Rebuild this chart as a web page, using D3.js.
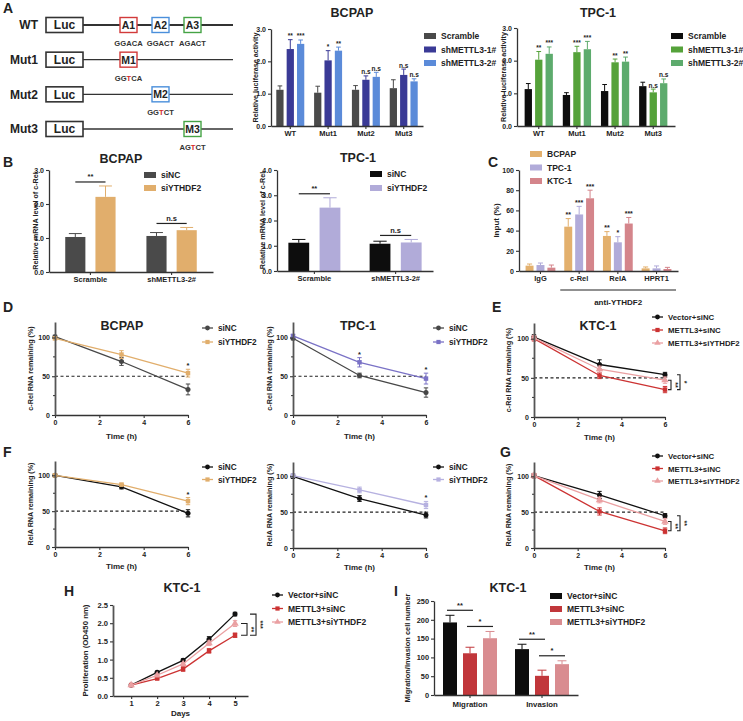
<!DOCTYPE html>
<html><head><meta charset="utf-8">
<script src="https://cdn.jsdelivr.net/npm/d3@7"></script>
<style>
body{margin:0;background:#fff;}
svg{display:block;font-family:"Liberation Sans",Arial,sans-serif;}
text{font-weight:bold;}
</style></head><body>
<svg id="fig" width="743" height="721"></svg>
<script>
// ================= DATA =================
// Panel A schematic
const constructs = ["WT","Mut1","Mut2","Mut3"];
const sites = ["A1","A2","A3"];
const mutSites = ["M1","M2","M3"];
const wtMotifs = ["GGACA","GGACT","AGACT"];
const mutMotifs = ["GGTCA","GGTCT","AGTCT"];
const mutIndex = 2;

// Panel A luciferase
const lucGroups = ["WT","Mut1","Mut2","Mut3"];
const lucSeries = ["Scramble","shMETTL3-1#","shMETTL3-2#"];
const lucTicks = [0,1,2,3];
const bcpapLuc = [[1.12,2.38,2.54],[1.03,2.03,2.33],[1.12,1.43,1.52],[1.17,1.58,1.38]];
const bcpapLucErr = [[0.12,0.29,0.12],[0.2,0.3,0.11],[0.13,0.12,0.14],[0.26,0.18,0.08]];
const bcpapLucSig = [["","**","***"],["","*","**"],["","n.s","n.s"],["","n.s","n.s"]];
const tpcLuc = [[1.13,2.03,2.21],[0.95,2.26,2.35],[1.07,1.95,1.97],[1.22,1.03,1.31]];
const tpcLucErr = [[0.17,0.25,0.21],[0.07,0.18,0.24],[0.2,0.1,0.14],[0.12,0.1,0.13]];
const tpcLucSig = [["","**","***"],["","***","***"],["","**","**"],["","n.s","n.s"]];

// Panel B
const bGroups = ["Scramble","shMETTL3-2#"];
const bSeries = ["siNC","siYTHDF2"];
const bcpapTicks = [0,1,2,3];
const tpcTicks = [0,1,2,3,4];
const bcpapRel = [[1.03,2.21],[1.06,1.23]];
const bcpapRelErr = [[0.1,0.32],[0.1,0.08]];
const tpcRel = [[1.12,2.51],[1.08,1.13]];
const tpcRelErr = [[0.13,0.39],[0.1,0.12]];
const bSig = ["**","n.s"];

// Panel C
const cTargets = ["IgG","c-Rel","RelA","HPRT1"];
const cCells = ["BCPAP","TPC-1","KTC-1"];
const cTicks = [0,20,40,60,80,100];
const cInput = [[5.3,5.9,3.3],[43.9,56,72],[34.7,28.4,47],[2.6,2.6,2]];
const cInputErr = [[1.6,2,2.6],[8,8,8],[4.3,5.6,6],[1.4,2.4,1.6]];
const cSig = [["","",""],["**","***","***"],["**","*","***"],["","",""]];

// Panels D-G (RNA decay)
const hours = [0,3,6];
const timeTicks = [0,2,4,6];
const remainTicks = [0,50,100];
const dBcpapNC = [101,69,33], dBcpapNCErr = [2,5,7];
const dBcpapSi = [99,78,54], dBcpapSiErr = [2,5,5];
const dBcpapSig = ["","","*"];
const dTpcNC = [99,51,29], dTpcNCErr = [2,3,6];
const dTpcSi = [102,68,47], dTpcSiErr = [2,6,7];
const dTpcSig = ["","*","*"];
const eVector = [102,67,54], eVectorErr = [3,6,3];
const eMettl = [100,53,35], eMettlErr = [3,4,4];
const eSiY = [101,61,47], eSiYErr = [3,4,4];
const eBrackets = [["METTL3+siYTHDF2","METTL3+siNC","**"],["Vector+siNC","METTL3+siNC","*"]];
const fBcpapNC = [100,84,47], fBcpapNCErr = [2,3,5];
const fBcpapSi = [100,87,64], fBcpapSiErr = [2,2,5];
const fBcpapSig = ["","","*"];
const fTpcNC = [100,69,46], fTpcNCErr = [3,4,4];
const fTpcSi = [101,81,60], fTpcSiErr = [2,4,5];
const fTpcSig = ["","","*"];
const gVector = [101,74,45], gVectorErr = [3,5,3];
const gMettl = [101,51,24], gMettlErr = [3,5,4];
const gSiY = [101,67,37], gSiYErr = [3,4,4];
const gBrackets = [["METTL3+siYTHDF2","METTL3+siNC","**"],["Vector+siNC","METTL3+siNC","**"]];

// Panel H
const days = [1,2,3,4,5];
const prolTicks = [0,0.5,1,1.5,2,2.5];
const hVector = [0.3,0.65,0.98,1.56,2.25], hVectorErr = [0.02,0.03,0.04,0.07,0.05];
const hMettl = [0.3,0.48,0.74,1.24,1.67], hMettlErr = [0.02,0.03,0.06,0.06,0.06];
const hSiY = [0.3,0.57,0.88,1.45,1.99], hSiYErr = [0.02,0.03,0.04,0.06,0.08];
const hBrackets = [["METTL3+siYTHDF2","METTL3+siNC","**"],["Vector+siNC","METTL3+siNC","***"]];

// Panel I
const iGroups = ["Migration","Invasion"];
const ktcSeries = ["Vector+siNC","METTL3+siNC","METTL3+siYTHDF2"];
const iTicks = [0,50,100,150,200,250];
const iCounts = [[193,111,151],[122,51,82]];
const iCountsErr = [[19,16,18],[13,15,9]];
const iPairs = [[0,1,"**"],[1,2,"*"]];

// ================= DRAWING =================
const FONT = '"Liberation Sans", Arial, sans-serif';
const svg = d3.select("#fig");
svg.append("rect").attr("width",743).attr("height",721).attr("fill","#fff");
const AX = "#333";

function txt(g,x,y,s,size,anchor,col){
  return g.append("text").attr("x",x).attr("y",y).text(s).attr("font-size",size)
    .attr("text-anchor",anchor||"start").attr("fill",col||"#222").attr("font-family",FONT).attr("font-weight","bold");
}
function styleAxis(sel,fs){
  sel.attr("font-family",FONT).attr("font-size",fs||7).attr("font-weight","bold").attr("color","#222");
  sel.selectAll("path.domain").attr("stroke",AX).attr("stroke-width",1.3);
  sel.selectAll(".tick line").attr("stroke",AX).attr("stroke-width",1.1);
}
function ylabel(g,x,yc,s,fs){
  g.append("text").attr("transform",`translate(${x},${yc}) rotate(-90)`).attr("text-anchor","middle")
   .attr("font-size",fs||7.2).attr("font-family",FONT).attr("font-weight","bold").attr("fill","#222").text(s);
}

// Panel letters
[["A",3,13],["B",3,167],["C",488,167],["D",3,312],["E",492,312],["F",3,457],["G",500,457],["H",64,596],["I",394,596]]
  .forEach(d=>txt(svg,d[1],d[2],d[0],14));

// ---------- Panel A schematic ----------
(function(){
  const g = svg.append("g");
  const rowY = d3.scalePoint().domain(constructs).range([25,129]);
  const siteX = d3.scalePoint().domain(sites).range([128.5,192.5]);
  const siteCol = ["#d23a3a","#4a8fdb","#45a345"];
  constructs.forEach((c,ri)=>{
    const yy = rowY(c);
    txt(g,38,yy+4.2,c,12,"end");
    g.append("line").attr("x1",83).attr("x2",233).attr("y1",yy).attr("y2",yy).attr("stroke","#333").attr("stroke-width",ri===0?1.8:1.3);
    g.append("rect").attr("x",46).attr("y",yy-7.5).attr("width",37).attr("height",15).attr("fill","#fff").attr("stroke","#333").attr("stroke-width",1.6);
    txt(g,64.5,yy+4.3,"Luc",12,"middle");
    const idx = ri===0 ? [0,1,2] : [ri-1];
    idx.forEach(si=>{
      const cx = siteX(sites[si]);
      g.append("rect").attr("x",cx-8.5).attr("y",yy-7.5).attr("width",17).attr("height",15).attr("fill","#fff").attr("stroke",siteCol[si]).attr("stroke-width",1.4);
      txt(g,cx,yy+4,ri===0?sites[si]:mutSites[si],10.5,"middle");
      if(ri===0){
        txt(g,cx,yy+21,wtMotifs[si],7.6,"middle","#333");
      } else {
        const t = g.append("text").attr("x",cx).attr("y",yy+21).attr("text-anchor","middle").attr("font-size",7.6).attr("font-family",FONT).attr("font-weight","bold").attr("fill","#333");
        mutMotifs[si].split("").forEach((ch,k)=>t.append("tspan").text(ch).attr("fill",k===mutIndex?"#d62b2b":"#333"));
      }
    });
  });
})();

// ---------- Bar chart helper ----------
function barChart(o){
  const g = svg.append("g");
  const x = d3.scaleBand().domain(o.groups).range([o.x0,o.x1]).paddingInner(o.pi).paddingOuter(o.po);
  const xs = d3.scaleBand().domain(o.series).range([0,x.bandwidth()]).paddingInner(o.ip);
  const y = d3.scaleLinear().domain([0,o.max]).range([o.yb,o.yt]);
  const bw = xs.bandwidth();
  o.groups.forEach((gr,gi)=>{
    o.series.forEach((s,si)=>{
      const v=o.values[gi][si], e=o.errs[gi][si], bx=x(gr)+xs(s), cx=bx+bw/2, col=o.colors[si];
      g.append("line").attr("x1",cx).attr("x2",cx).attr("y1",y(v)).attr("y2",y(v+e)).attr("stroke",col).attr("stroke-width",1);
      g.append("line").attr("x1",cx-bw*0.32).attr("x2",cx+bw*0.32).attr("y1",y(v+e)).attr("y2",y(v+e)).attr("stroke",col).attr("stroke-width",1);
      g.append("rect").attr("x",bx).attr("y",y(v)).attr("width",bw).attr("height",y(0)-y(v)).attr("fill",col);
      if(o.sig && o.sig[gi][si]) txt(g,cx,y(v+e)-1.5,o.sig[gi][si],o.sigFs||6.5,"middle");
    });
    if(o.pairs){
      o.pairs.forEach(p=>{
        const a=p[0], b=p[1];
        const xa = x(gr)+xs(o.series[a])+bw/2, xb = x(gr)+xs(o.series[b])+bw/2;
        const top = Math.max(o.values[gi][a]+o.errs[gi][a], o.values[gi][b]+o.errs[gi][b]);
        const ly = y(top)-o.pairGap;
        g.append("line").attr("x1",xa).attr("x2",xb).attr("y1",ly).attr("y2",ly).attr("stroke","#222").attr("stroke-width",1.2);
        txt(g,(xa+xb)/2,ly-2.5,Array.isArray(p[2])?p[2][gi]:p[2],o.sigFs||7,"middle");
      });
    }
  });
  const xa = g.append("g").attr("transform",`translate(0,${o.yb})`).call(d3.axisBottom(x).tickSize(3).tickSizeOuter(0).tickPadding(o.xpad||2));
  styleAxis(xa,o.xfs||7.5);
  const ya = g.append("g").attr("transform",`translate(${o.x0},0)`).call(d3.axisLeft(y).tickValues(o.ticks).tickSize(3).tickSizeOuter(0).tickPadding(2));
  styleAxis(ya,o.yfs||7);
  ylabel(g,o.ylx,(o.yb+o.yt)/2,o.ylabel,o.ylfs);
  if(o.title) txt(g,o.title[1],o.title[2],o.title[0],12.5,"middle");
  o.series.forEach((s,si)=>{
    const ly = o.legY + si*o.legDy;
    g.append("rect").attr("x",o.legX).attr("y",ly-3).attr("width",12).attr("height",6).attr("fill",o.colors[si]);
    txt(g,o.legX+17,ly+3,s,8.5);
  });
  return {g,x,y};
}

// Panel A bar charts
barChart({x0:271,x1:423,yb:126,yt:29,max:3,ticks:lucTicks,groups:lucGroups,series:lucSeries,values:bcpapLuc,errs:bcpapLucErr,sig:bcpapLucSig,
  colors:["#4a4a4a","#3a3a96","#5b8bd9"],pi:0.26,po:0.14,ip:0.3,ylx:258,ylabel:"Relative luciferase activity",title:["BCPAP",352,17],
  legX:424,legY:36,legDy:13.5,sigFs:6.5});
barChart({x0:517,x1:675,yb:126,yt:28,max:3,ticks:lucTicks,groups:lucGroups,series:lucSeries,values:tpcLuc,errs:tpcLucErr,sig:tpcLucSig,
  colors:["#0d0d0d","#55a23a","#5dab6d"],pi:0.26,po:0.2,ip:0.3,ylx:506,ylabel:"Relative luciferase activity",title:["TPC-1",598,17],
  legX:671,legY:36,legDy:13.5,sigFs:6.5});

// Panel B
barChart({x0:49,x1:213,yb:272,yt:170,max:3,ticks:bcpapTicks,groups:bGroups,series:bSeries,values:bcpapRel,errs:bcpapRelErr,
  colors:["#4a4a4a","#e1ae6c"],pi:0.38,po:0.2,ip:0.333,pairs:[[0,1,bSig]],pairGap:4,sigFs:7.5,ylx:38,ylabel:"Relative mRNA level of c-Rel",
  title:["BCPAP",121,163],legX:144,legY:175,legDy:13,xfs:7.5});
barChart({x0:277,x1:433,yb:271,yt:170,max:4,ticks:tpcTicks,groups:bGroups,series:bSeries,values:tpcRel,errs:tpcRelErr,
  colors:["#0d0d0d","#b1abd9"],pi:0.36,po:0.14,ip:0.333,pairs:[[0,1,bSig]],pairGap:4,sigFs:7.5,ylx:265,ylabel:"Relative mRNA level of c-Rel",
  title:["TPC-1",358,162],legX:370,legY:174,legDy:14,xfs:7.5});

// Panel C
(function(){
  const r = barChart({x0:519,x1:678,yb:271,yt:170,max:100,ticks:cTicks,groups:cTargets,series:cCells,values:cInput,errs:cInputErr,sig:cSig,
    colors:["#e3b06d","#b1abd9","#d4858b"],pi:0.23,po:0.17,ip:0.27,ylx:499,ylabel:"Input (%)",ylfs:8,legX:530,legY:154,legDy:13.5,sigFs:7,xfs:7.5});
  const xl = r.x("c-Rel")-4, xr = 676;
  r.g.append("line").attr("x1",xl).attr("x2",xr).attr("y1",290).attr("y2",290).attr("stroke","#222").attr("stroke-width",1.2);
  txt(r.g,(xl+xr)/2,305,"anti-YTHDF2",8,"middle");
})();

// ---------- Line chart helper ----------
function lineChart(o){
  const g = svg.append("g");
  const x = d3.scaleLinear().domain(o.xdom).range([o.x0,o.x1]);
  const y = d3.scaleLinear().domain([0,o.ymax]).range([o.yb,o.yt]);
  if(o.ref!==undefined){
    g.append("line").attr("x1",x(o.xdom[0])).attr("x2",o.x1).attr("y1",y(o.ref)).attr("y2",y(o.ref))
     .attr("stroke","#222").attr("stroke-width",1.1).attr("stroke-dasharray","3,2.5");
  }
  const line = d3.line().x((d,i)=>x(o.xs[i])).y(d=>y(d));
  const shapes = {circle:d3.symbolCircle,square:d3.symbolSquare,triangle:d3.symbolTriangle};
  o.series.forEach(s=>{
    g.append("path").attr("d",line(s.vals)).attr("fill","none").attr("stroke",s.color).attr("stroke-width",1.3);
    s.vals.forEach((v,i)=>{
      const e = s.errs[i], cx = x(o.xs[i]);
      g.append("line").attr("x1",cx).attr("x2",cx).attr("y1",y(v-e)).attr("y2",y(v+e)).attr("stroke",s.color).attr("stroke-width",1);
      [v-e,v+e].forEach(w=>g.append("line").attr("x1",cx-2.2).attr("x2",cx+2.2).attr("y1",y(w)).attr("y2",y(w)).attr("stroke",s.color).attr("stroke-width",1));
      g.append("path").attr("d",d3.symbol().type(shapes[s.shape]).size(s.shape==="triangle"?24:20)()).attr("transform",`translate(${cx},${y(v)})`).attr("fill",s.color);
    });
  });
  if(o.sig){
    o.sig.forEach((st,i)=>{
      if(!st) return;
      const top = d3.max(o.series,s=>s.vals[i]+s.errs[i]);
      txt(g,x(o.xs[i]),y(top)-1,st,7.5,"middle");
    });
  }
  if(o.brackets){
    const li = o.xs.length-1, xl = x(o.xs[li]);
    o.brackets.forEach((b,L)=>{
      const sa = o.series.find(s=>s.name===b[0]), sb = o.series.find(s=>s.name===b[1]);
      const ya = y(sa.vals[li]), yb2 = y(sb.vals[li]);
      const xb = xl + o.brOff + L*o.brStep;
      g.append("path").attr("d",`M${xb-o.brTick},${ya}H${xb}V${yb2}H${xb-o.brTick}`).attr("fill","none").attr("stroke","#222").attr("stroke-width",1.1);
      g.append("text").attr("transform",`translate(${xb+2},${(ya+yb2)/2}) rotate(90)`).attr("text-anchor","middle")
        .attr("font-size",7).attr("font-family",FONT).attr("font-weight","bold").attr("fill","#222").text(b[2]);
    });
  }
  const xa = g.append("g").attr("transform",`translate(0,${o.yb})`).call(d3.axisBottom(x).tickValues(o.xticks).tickFormat(o.xfmt||d3.format("d")).tickSize(3).tickSizeOuter(0).tickPadding(2));
  styleAxis(xa,o.tfs||7);
  const ya = g.append("g").attr("transform",`translate(${o.x0},0)`).call(d3.axisLeft(y).tickValues(o.yticks).tickFormat(o.yfmt||d3.format("d")).tickSize(3).tickSizeOuter(0).tickPadding(2));
  styleAxis(ya,o.tfs||7);
  ya.select("path.domain").attr("stroke","#555").attr("stroke-width",1.8);
  if(o.minor) ya.selectAll(null).data(o.minor).enter().append("line").attr("x1",-2).attr("x2",0).attr("y1",d=>y(d)).attr("y2",d=>y(d)).attr("stroke",AX);
  ylabel(g,o.ylx,(o.yb+o.yt)/2,o.ylabel,o.ylfs);
  txt(g,(o.x0+o.x1)/2,o.xly,o.xlabel,8,"middle");
  if(o.title) txt(g,o.title[1],o.title[2],o.title[0],12.5,"middle");
  o.series.forEach((s,si)=>{
    const ly = o.legY + si*o.legDy;
    g.append("line").attr("x1",o.legX).attr("x2",o.legX+11).attr("y1",ly).attr("y2",ly).attr("stroke",s.color).attr("stroke-width",1.3);
    g.append("path").attr("d",d3.symbol().type(shapes[s.shape]).size(18)()).attr("transform",`translate(${o.legX+5.5},${ly})`).attr("fill",s.color);
    txt(g,o.legX+16,ly+3,s.name,o.legFs||8.2);
  });
  return {g,x,y};
}

const GRAY="#474747", TAN="#e1ae6c", PURP="#7a72c6", LAV="#b6b1e0", RED="#cc3333", PINK="#eaa0a2", BLK="#111";
const decay = {xs:hours,xdom:[0,6],xticks:timeTicks,ymax:120,yticks:remainTicks,minor:[25,75],ref:50,xlabel:"Time (h)"};

// Panel D
lineChart(Object.assign({},decay,{x0:55,x1:188,yb:415,yt:322,ylx:33,ylabel:"c-Rel RNA remaining (%)",xly:439,title:["BCPAP",122,330],
  series:[{name:"siNC",vals:dBcpapNC,errs:dBcpapNCErr,color:GRAY,shape:"circle"},{name:"siYTHDF2",vals:dBcpapSi,errs:dBcpapSiErr,color:TAN,shape:"square"}],
  sig:dBcpapSig,legX:202,legY:328,legDy:14}));
lineChart(Object.assign({},decay,{x0:293,x1:426,yb:415,yt:322,ylx:272,ylabel:"c-Rel RNA remaining (%)",xly:439,title:["TPC-1",358,330],
  series:[{name:"siNC",vals:dTpcNC,errs:dTpcNCErr,color:GRAY,shape:"circle"},{name:"siYTHDF2",vals:dTpcSi,errs:dTpcSiErr,color:PURP,shape:"square"}],
  sig:dTpcSig,legX:433,legY:328,legDy:14}));
// Panel E
lineChart(Object.assign({},decay,{x0:534,x1:665,yb:417,yt:323,ylx:511,ylabel:"c-Rel RNA remaining (%)",xly:440,title:["KTC-1",598,330],
  series:[{name:"Vector+siNC",vals:eVector,errs:eVectorErr,color:BLK,shape:"circle"},{name:"METTL3+siNC",vals:eMettl,errs:eMettlErr,color:RED,shape:"square"},
          {name:"METTL3+siYTHDF2",vals:eSiY,errs:eSiYErr,color:PINK,shape:"triangle"}],
  brackets:eBrackets,brOff:6,brStep:9,brTick:3,legX:652,legY:317,legDy:13,legFs:7.8}));
// Panel F
lineChart(Object.assign({},decay,{x0:55,x1:188,yb:547,yt:461,ylx:33,ylabel:"RelA RNA remaining (%)",xly:569,
  series:[{name:"siNC",vals:fBcpapNC,errs:fBcpapNCErr,color:BLK,shape:"circle"},{name:"siYTHDF2",vals:fBcpapSi,errs:fBcpapSiErr,color:TAN,shape:"square"}],
  sig:fBcpapSig,legX:202,legY:467,legDy:12.5}));
lineChart(Object.assign({},decay,{x0:293,x1:426,yb:548,yt:462,ylx:272,ylabel:"RelA RNA remaining (%)",xly:570,
  series:[{name:"siNC",vals:fTpcNC,errs:fTpcNCErr,color:BLK,shape:"circle"},{name:"siYTHDF2",vals:fTpcSi,errs:fTpcSiErr,color:LAV,shape:"square"}],
  sig:fTpcSig,legX:433,legY:467,legDy:12.5}));
// Panel G
lineChart(Object.assign({},decay,{x0:534,x1:665,yb:548,yt:462,ylx:511,ylabel:"RelA RNA remaining (%)",xly:570,
  series:[{name:"Vector+siNC",vals:gVector,errs:gVectorErr,color:BLK,shape:"circle"},{name:"METTL3+siNC",vals:gMettl,errs:gMettlErr,color:RED,shape:"square"},
          {name:"METTL3+siYTHDF2",vals:gSiY,errs:gSiYErr,color:PINK,shape:"triangle"}],
  brackets:gBrackets,brOff:6,brStep:9,brTick:3,legX:652,legY:456,legDy:12.5,legFs:7.8}));
// Panel H
lineChart({xs:days,xdom:[0.3,5.5],xticks:days,ymax:2.5,yticks:prolTicks,yfmt:d3.format(".1f"),x0:113,x1:248,yb:696,yt:605,
  ylx:88,ylabel:"Proliferation (OD450 nm)",ylfs:7.8,tfs:7.6,xlabel:"Days",xly:716,title:["KTC-1",182,592],
  series:[{name:"Vector+siNC",vals:hVector,errs:hVectorErr,color:BLK,shape:"circle"},{name:"METTL3+siNC",vals:hMettl,errs:hMettlErr,color:RED,shape:"square"},
          {name:"METTL3+siYTHDF2",vals:hSiY,errs:hSiYErr,color:PINK,shape:"triangle"}],
  brackets:hBrackets,brOff:12,brStep:9,brTick:6,legX:272,legY:595,legDy:13.5,legFs:8.5});

// Panel I
(function(){
  const cols = ["#0d0d0d","#c1373b","#d98c90"];
  const r = barChart({x0:434,x1:578,yb:695,yt:601,max:250,ticks:iTicks,groups:iGroups,series:ktcSeries,values:iCounts,errs:iCountsErr,
    colors:cols,pi:0.25,po:0.125,ip:0.3,ylx:410,ylabel:"Migration/Invasion cell number",ylfs:7.4,yfs:7.4,title:["KTC-1",508,592],
    legX:550,legY:596,legDy:13,xfs:7.8,xpad:3});
  const xs = d3.scaleBand().domain(ktcSeries).range([0,r.x.bandwidth()]).paddingInner(0.3);
  iGroups.forEach((gr,gi)=>{
    iPairs.forEach(p=>{
      const a=p[0], b=p[1];
      const xa = r.x(gr)+xs(ktcSeries[a])+xs.bandwidth()/2, xb = r.x(gr)+xs(ktcSeries[b])+xs.bandwidth()/2;
      const top = Math.max(iCounts[gi][a]+iCountsErr[gi][a], iCounts[gi][b]+iCountsErr[gi][b]);
      const ly = r.y(top)-5;
      r.g.append("line").attr("x1",xa-3).attr("x2",xb+3).attr("y1",ly).attr("y2",ly).attr("stroke","#222").attr("stroke-width",1.2);
      txt(r.g,(xa+xb)/2,ly-2.5,p[2],7.5,"middle");
    });
  });
})();
</script></body></html>
